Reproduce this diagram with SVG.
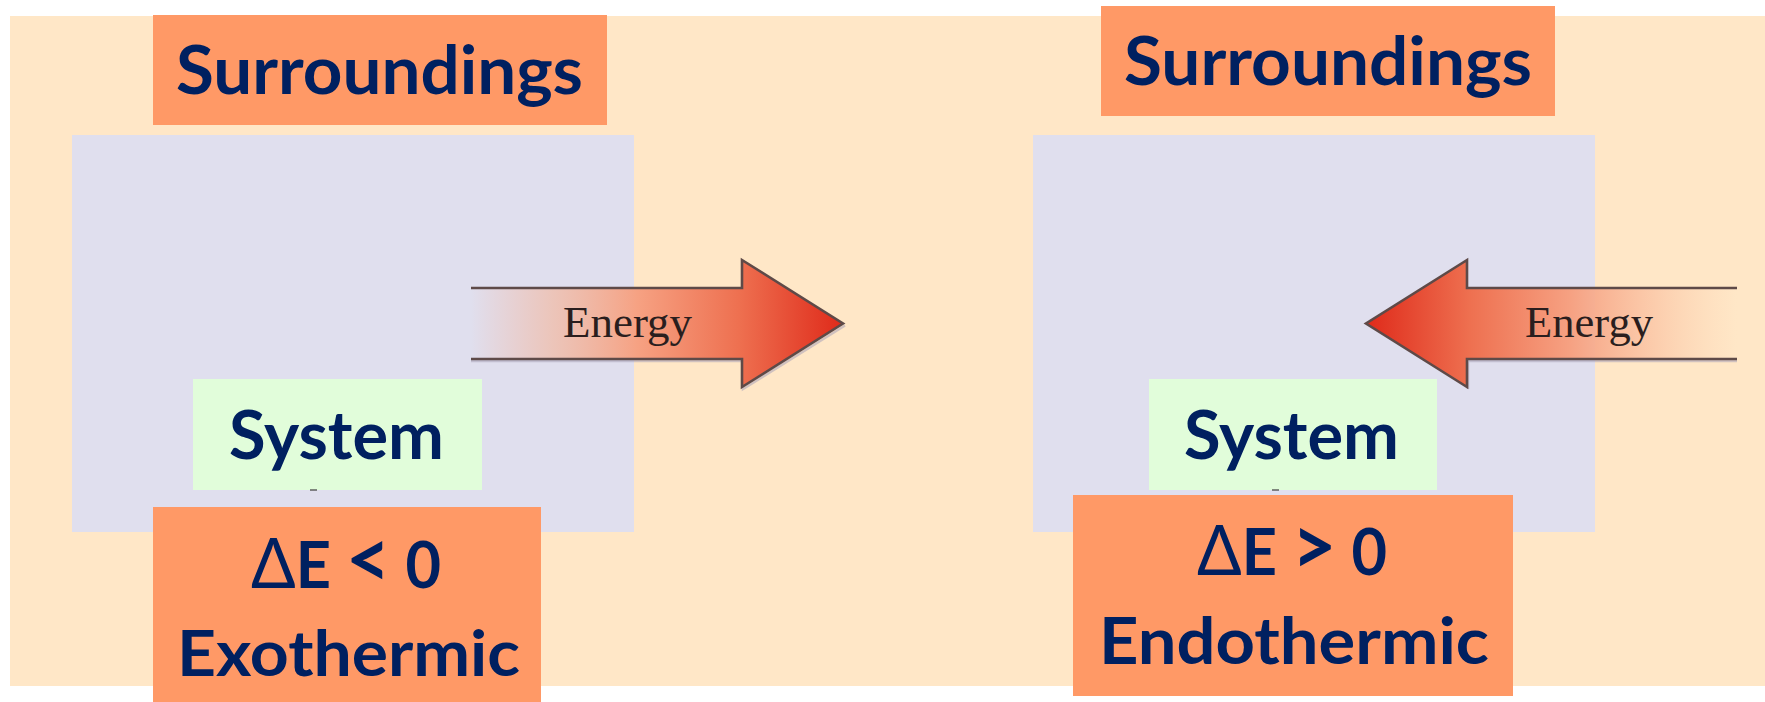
<svg xmlns="http://www.w3.org/2000/svg" width="1765" height="702" viewBox="0 0 1765 702">
  <defs>
    <style>
      .bg { fill: #FFE7C7; }
      .sys-region { fill: #E0DFEE; }
      .orange { fill: #FF9966; }
      .green { fill: #E1FDDA; }
      .lbl { font-family: Lato, "Open Sans", "Liberation Sans", sans-serif; font-weight: 700; fill: #002060; text-anchor: middle; }
      .delta { font-weight: 400; font-size: 70px; }
      .cmp { font-size: 82px; }
      .energy { font-family: "Liberation Serif", "Times New Roman", serif; font-size: 45px; fill: #2a1e1e; text-anchor: middle; }
      .arrow { stroke: #5e4a48; stroke-width: 2.6; stroke-linejoin: miter; }
      .shadow { fill: none; stroke: #a9a3b8; stroke-width: 2.5; opacity: 0.55; }
      .tick { fill: #555; opacity: 0.7; }
    </style>
    <linearGradient id="gradR" gradientUnits="userSpaceOnUse" x1="471" y1="0" x2="843" y2="0">
      <stop offset="0" stop-color="#F3B8A6" stop-opacity="0"/>
      <stop offset="0.22" stop-color="#F0BCA8" stop-opacity="0.75"/>
      <stop offset="0.45" stop-color="#F6A182" stop-opacity="1"/>
      <stop offset="0.72" stop-color="#EE7050"/>
      <stop offset="1" stop-color="#DF2A1A"/>
    </linearGradient>
    <linearGradient id="gradL" gradientUnits="userSpaceOnUse" x1="1737" y1="0" x2="1366" y2="0">
      <stop offset="0" stop-color="#FCD3B2" stop-opacity="0"/>
      <stop offset="0.22" stop-color="#FBC6A6" stop-opacity="0.8"/>
      <stop offset="0.45" stop-color="#F6A182" stop-opacity="1"/>
      <stop offset="0.72" stop-color="#EE7050"/>
      <stop offset="1" stop-color="#DF2A1A"/>
    </linearGradient>
  </defs>

  <rect id="background" class="bg" x="10" y="16" width="1755" height="670"/>

  <g id="system-region-left">
    <rect class="sys-region" x="72" y="135" width="562" height="397"/>
  </g>
  <g id="system-region-right">
    <rect class="sys-region" x="1033" y="135" width="562" height="397"/>
  </g>

  <g id="surroundings-left">
    <rect class="orange" x="153" y="15" width="454" height="110"/>
    <text class="lbl" x="379.5" y="94" font-size="66" textLength="407" lengthAdjust="spacingAndGlyphs">Surroundings</text>
  </g>
  <g id="surroundings-right">
    <rect class="orange" x="1101" y="6" width="454" height="110"/>
    <text class="lbl" x="1328" y="85" font-size="66" textLength="408" lengthAdjust="spacingAndGlyphs">Surroundings</text>
  </g>

  <g id="connectors">
    <g id="energy-out">
      <path class="shadow" d="M471,361 L743,361 L743,389 L845,325.5"/>
      <path class="arrow" fill="url(#gradR)" d="M471,288 L742,288 L742,260 L843,323.5 L742,387 L742,359 L471,359"/>
      <text class="energy" x="627.5" y="337" textLength="129" lengthAdjust="spacingAndGlyphs">Energy</text>
    </g>
    <g id="energy-in">
      <path class="shadow" d="M1737,361 L1468,361 L1468,389"/>
      <path class="arrow" fill="url(#gradL)" d="M1737,288 L1467,288 L1467,260 L1366,323.5 L1467,387 L1467,359 L1737,359"/>
      <text class="energy" x="1589" y="337" textLength="128" lengthAdjust="spacingAndGlyphs">Energy</text>
    </g>
  </g>

  <g id="system-left">
    <rect class="green" x="193" y="379" width="289" height="111"/>
    <text class="lbl" x="336.5" y="459" font-size="66" textLength="215" lengthAdjust="spacingAndGlyphs">System</text>
    <rect class="tick" x="310" y="489" width="7" height="2"/>
  </g>
  <g id="system-right">
    <rect class="green" x="1149" y="379" width="288" height="111"/>
    <text class="lbl" x="1291.5" y="459" font-size="66" textLength="215" lengthAdjust="spacingAndGlyphs">System</text>
    <rect class="tick" x="1272" y="489" width="7" height="2"/>
  </g>

  <g id="exothermic">
    <rect class="orange" x="153" y="507" width="388" height="195"/>
    <text class="lbl" x="346" y="588" font-size="65" textLength="190" lengthAdjust="spacingAndGlyphs"><tspan class="delta">Δ</tspan>E <tspan class="cmp">&lt;</tspan> 0</text>
    <text class="lbl" x="348.5" y="676" font-size="64" textLength="343" lengthAdjust="spacingAndGlyphs">Exothermic</text>
  </g>
  <g id="endothermic">
    <rect class="orange" x="1073" y="495" width="440" height="201"/>
    <text class="lbl" x="1292" y="575" font-size="65" textLength="190" lengthAdjust="spacingAndGlyphs"><tspan class="delta">Δ</tspan>E <tspan class="cmp">&gt;</tspan> 0</text>
    <text class="lbl" x="1294" y="664" font-size="65" textLength="390" lengthAdjust="spacingAndGlyphs">Endothermic</text>
  </g>
</svg>
